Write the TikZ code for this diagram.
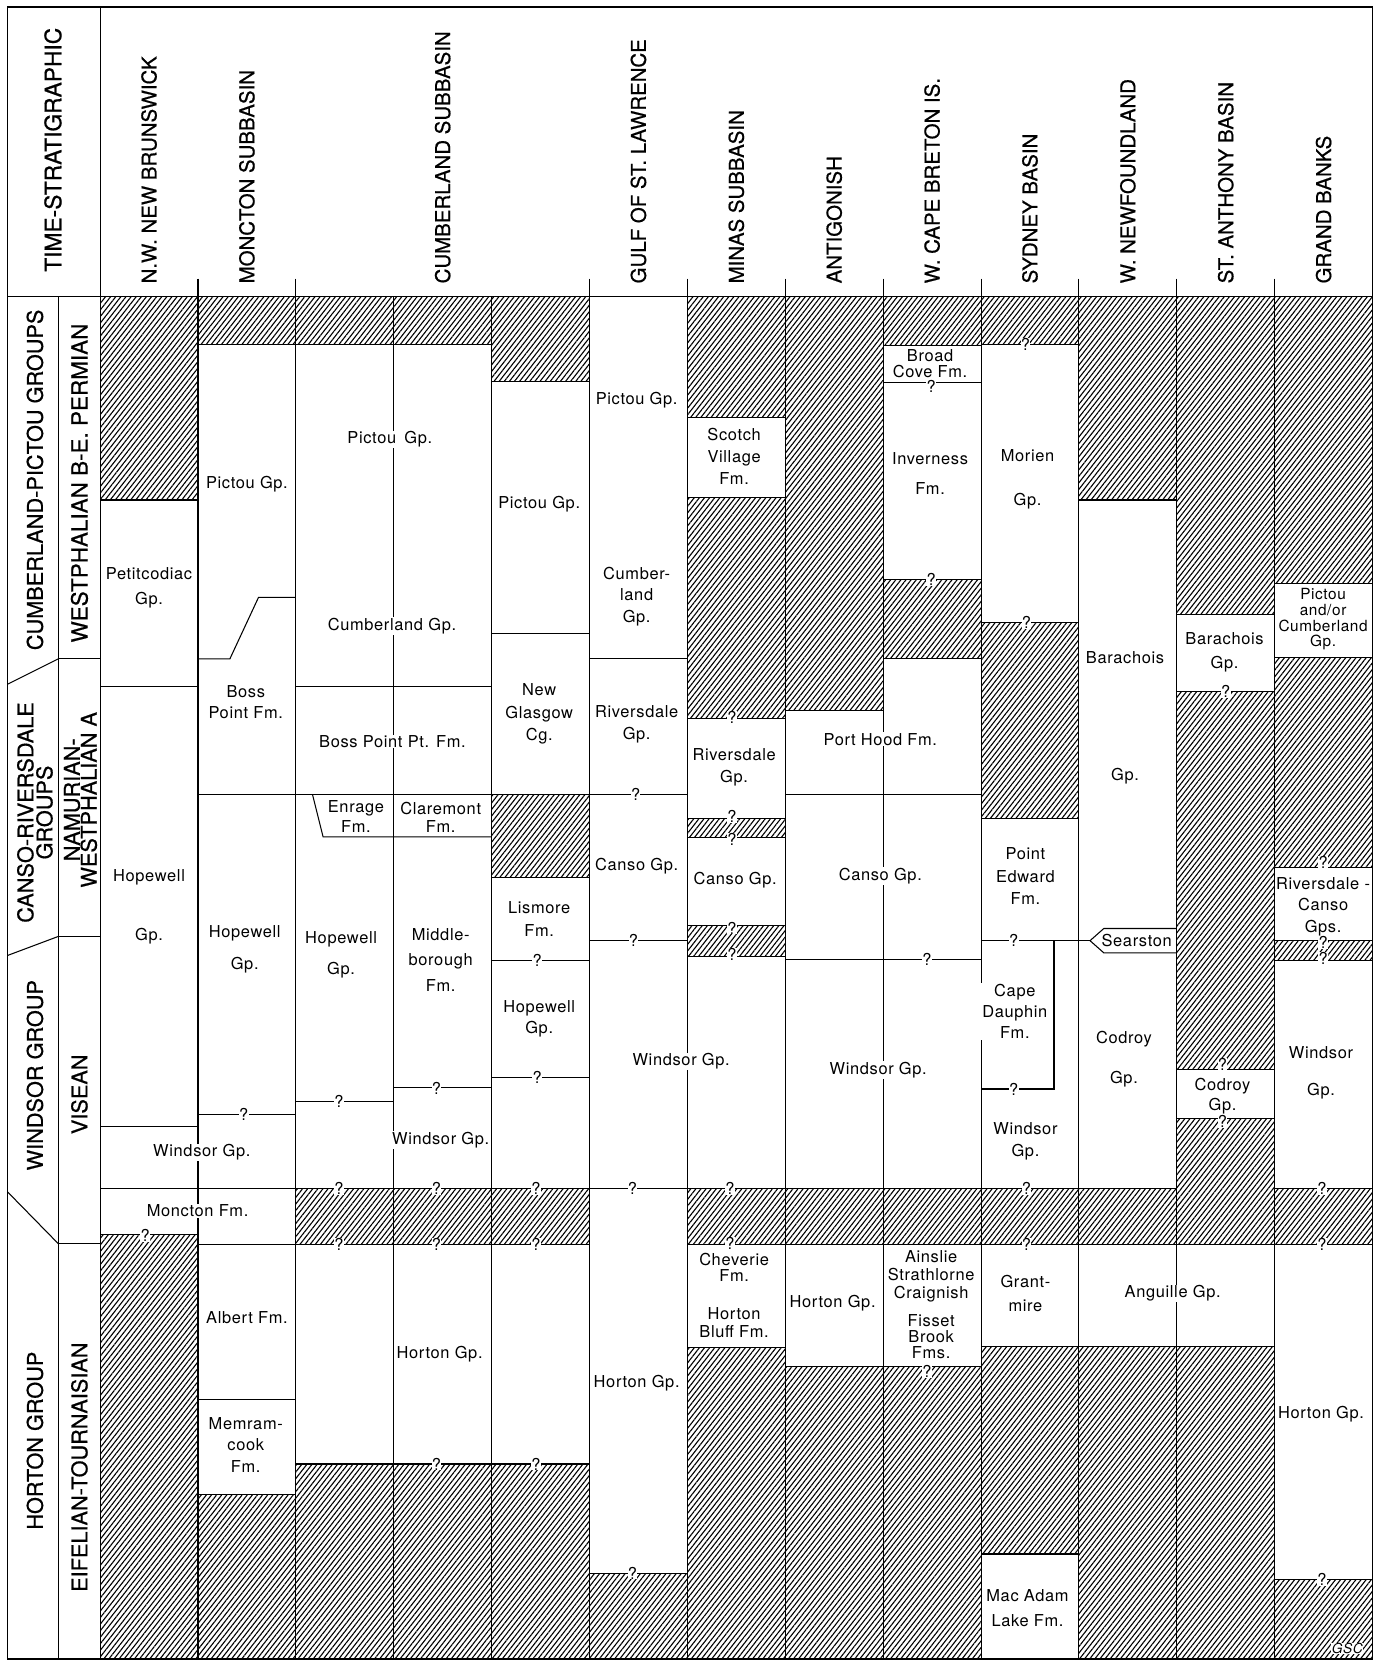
\documentclass[tikz,border=0pt]{standalone}
\usepackage{fontspec}
\setmainfont{TeX Gyre Heros}[LetterSpace=4]
\newfontfamily\capsfont{TeX Gyre Heros}[FakeBold=0.6]
\usetikzlibrary{patterns.meta}
\tikzset{
  hatch/.style={pattern={Lines[angle=52,distance=3.8pt,line width=1.05pt]},draw=black,line width=1pt},
  tx/.style={font=\fontsize{15.5}{#1}\selectfont,align=center,fill=white,inner sep=0.8pt},
  tx/.default=20,
  qm/.style={font=\fontsize{15.5}{15.5}\selectfont,fill=white,inner sep=0.3pt},
  hdr/.style={font=\capsfont\fontsize{19.3}{19.3}\selectfont,rotate=90,anchor=west,inner sep=0pt},
  grp/.style={font=\capsfont\fontsize{20.5}{#1}\selectfont,rotate=90,align=center,inner sep=0pt},
  grp/.default=20,
}
\begin{document}
\begin{tikzpicture}[x=1pt,y=-1pt,line width=1pt]
\useasboundingbox (0,0) rectangle (1306,1568);
\fill[white] (0,0) rectangle (1306,1568);

% ---------- hatched (missing) intervals ----------
\path[hatch] (94.5,280) rectangle (186.9,472);
\path[hatch] (94.5,1165) rectangle (186.9,1566);
\path[hatch] (186.9,280) rectangle (279.3,325);
\path[hatch] (186.9,1411) rectangle (279.3,1566);
\path[hatch] (279.3,280) rectangle (464.1,325);
\path[hatch] (279.3,1122) rectangle (556.5,1175);
\path[hatch] (279.3,1382) rectangle (556.5,1566);
\path[hatch] (464.1,280) rectangle (556.5,360);
\path[hatch] (464.1,750) rectangle (556.5,828);
\path[hatch] (556.5,1485) rectangle (648.9,1566);
\path[hatch] (648.9,280) rectangle (741.3,394);
\path[hatch] (648.9,470) rectangle (741.3,678);
\path[hatch] (648.9,773) rectangle (741.3,791);
\path[hatch] (648.9,874) rectangle (741.3,903);
\path[hatch] (648.9,1122) rectangle (1110.9,1175);
\path[hatch] (648.9,1272) rectangle (741.3,1566);
\path[hatch] (741.3,280) rectangle (833.7,671);
\path[hatch] (741.3,1290) rectangle (926.1,1566);
\path[hatch] (833.7,280) rectangle (926.1,326);
\path[hatch] (833.7,547) rectangle (926.1,622);
\path[hatch] (926.1,280) rectangle (1018.5,325);
\path[hatch] (926.1,588) rectangle (1018.5,773);
\path[hatch] (926.1,1271) rectangle (1018.5,1467);
\path[hatch] (1018.5,280) rectangle (1110.9,472);
\path[hatch] (1018.5,1271) rectangle (1203.3,1566);
\path[hatch] (1110.9,280) rectangle (1203.3,580);
\path[hatch] (1110.9,653) rectangle (1203.3,1010);
\path[hatch] (1110.9,1056) rectangle (1203.3,1175);
\path[hatch] (1203.3,280) rectangle (1295.7,551);
\path[hatch] (1203.3,621) rectangle (1295.7,819);
\path[hatch] (1203.3,888) rectangle (1295.7,907);
\path[hatch] (1203.3,1122) rectangle (1295.7,1175);
\path[hatch] (1203.3,1491) rectangle (1295.7,1566);

% ---------- frame and grid ----------
\draw (7,280) -- (1295.7,280);
\draw (94.5,6.5) -- (94.5,1566);
\draw (55,280) -- (55,1566);
\foreach \x in {186.9,279.3,371.7,464.1,556.5,648.9,741.3,833.7,926.1,1018.5,1110.9,1203.3}
  \draw (\x,280) -- (\x,1566);
\foreach \x in {186.9,279.3,556.5,648.9,741.3,833.7,926.1,1018.5,1110.9,1203.3}
  \draw (\x,263) -- (\x,280);
% time-stratigraphic divisions
\draw (55,622) -- (94.5,622);
\draw (55,884) -- (94.5,884);
\draw (55,1174) -- (94.5,1174);
\draw (7,646) -- (55,622);
\draw (7,902) -- (55,884);
\draw (7,1125) -- (55,1174);

% ---------- unit boundaries ----------
\draw (94.5,648) -- (186.9,648);
\draw (94.5,1063) -- (186.9,1063);
\draw (94.5,1122) -- (279.3,1122);
\draw (186.9,1175) -- (279.3,1175);
\draw (186.9,622) -- (217,622) -- (244,564) -- (279.3,564);
\draw (186.9,750) -- (648.9,750);
\draw (186.9,1052) -- (279.3,1052);
\draw (186.9,1321) -- (279.3,1321);
\draw (279.3,648) -- (464.1,648);
\draw (295,750) -- (305,790) -- (464.1,790);
\draw (279.3,1040) -- (371.7,1040);
\draw (371.7,1027) -- (464.1,1027);
\draw (464.1,598) -- (556.5,598);
\draw (464.1,907) -- (556.5,907);
\draw (464.1,1017) -- (556.5,1017);
\draw (556.5,622) -- (648.9,622);
\draw (556.5,888) -- (648.9,888);
\draw (556.5,1122) -- (648.9,1122);
\draw (741.3,750) -- (926.1,750);
\draw (741.3,906) -- (926.1,906);
\draw (833.7,361) -- (926.1,361);
\draw (926.1,888) -- (1029,888);
\draw (926.1,1028) -- (995,1028) -- (995,888);
\draw (1029,888) -- (1042,876.5) -- (1110.9,876.5);
\draw (1029,888) -- (1042,899.5) -- (1110.9,899.5);

\draw[line width=1.4pt] (7,6.5) rectangle (1295.7,1566);

% ---------- headings ----------
\node[hdr,font=\capsfont\fontsize{21.5}{21.5}\selectfont] (hA) at (50,257) {TIME-STRATIGRAPHIC};
\node[hdr] (hB) at (140.7,268) {N.W. NEW BRUNSWICK};
\node[hdr] (hC) at (233.1,268) {MONCTON SUBBASIN};
\node[hdr] (hD) at (417.9,268) {CUMBERLAND SUBBASIN};
\node[hdr] (hE) at (602.7,268) {GULF OF ST. LAWRENCE};
\node[hdr] (hF) at (695.1,268) {MINAS SUBBASIN};
\node[hdr] (hG) at (787.5,268) {ANTIGONISH};
\node[hdr] (hH) at (879.9,268) {W. CAPE BRETON IS.};
\node[hdr] (hI) at (972.3,268) {SYDNEY BASIN};
\node[hdr] (hJ) at (1064.7,268) {W. NEWFOUNDLAND};
\node[hdr] (hK) at (1157.1,268) {ST. ANTHONY BASIN};
\node[hdr] (hL) at (1249.5,268) {GRAND BANKS};

\node[grp] (gA) at (33,453) {CUMBERLAND-PICTOU GROUPS};
\node[grp=18] (gB) at (33,767) {CANSO-RIVERSDALE\\GROUPS};
\node[grp] (gC) at (33,1015) {WINDSOR GROUP};
\node[grp] (gD) at (33,1360) {HORTON GROUP};
\node[grp,font=\capsfont\fontsize{21.2}{20}\selectfont] (sA) at (75,456) {WESTPHALIAN B-E. PERMIAN};
\node[grp=16] (sB) at (76,755) {NAMURIAN-\\WESTPHALIAN A};
\node[grp] (sC) at (75,1033) {VISEAN};
\node[grp] (sD) at (75,1385) {EIFELIAN-TOURNAISIAN};

% ---------- unit names ----------
\node[tx=24] (t01) at (140.7,555) {Petitcodiac\\Gp.};
\node[tx=56] (t02) at (140.7,856) {Hopewell\\Gp.};
\node[tx] (t03) at (190.5,1088) {Windsor Gp.};
\node[tx] (t04) at (186.5,1143) {Moncton Fm.};

\node[tx] (t11) at (233.1,457) {Pictou Gp.};
\node[tx=20] (t12) at (232,663) {Boss\\Point Fm.};
\node[tx=30] (t13) at (231,896) {Hopewell\\Gp.};
\node[tx] (t14) at (233.1,1244) {Albert Fm.};
\node[tx=20] (t15) at (232,1364) {Memram-\\cook\\Fm.};

\node[tx] (t21) at (368,415) {Pictou\enspace Gp.};
\node[tx] (t22) at (370,591) {Cumberland Gp.};
\node[tx] (t23) at (370.5,700) {Boss Point Pt. Fm.};
\node[tx=19] (t24) at (336,770.5) {Enrage\\Fm.};
\node[tx=17] (t25) at (416,771.5) {Claremont\\Fm.};
\node[tx=29] (t26) at (322,901.5) {Hopewell\\Gp.};
\node[tx=24] (t27) at (416,906) {Middle-\\borough\\Fm.};
\node[tx] (t28) at (416,1076) {Windsor Gp.};
\node[tx] (t29) at (415,1278) {Horton Gp.};

\node[tx] (t41) at (509,476) {Pictou Gp.};
\node[tx=21] (t42) at (509,674) {New\\Glasgow\\Cg.};
\node[tx=21] (t43) at (509,867.5) {Lismore\\Fm.};
\node[tx=20] (t44) at (509,962) {Hopewell\\Gp.};

\node[tx] (t51) at (601,378) {Pictou Gp.};
\node[tx=20.5] (t52) at (601,563) {Cumber-\\land\\Gp.};
\node[tx=21] (t53) at (601,683.5) {Riversdale\\Gp.};
\node[tx] (t54) at (601,818) {Canso Gp.};
\node[tx] (t55) at (643,1002) {Windsor Gp.};
\node[tx] (t56) at (601,1306) {Horton Gp.};

\node[tx=21] (t61) at (693,431) {Scotch\\Village\\Fm.};
\node[tx=21] (t62) at (693,724.5) {Riversdale\\Gp.};
\node[tx] (t63) at (694,831) {Canso Gp.};
\node[tx=15] (t64) at (693,1196.5) {Cheverie\\Fm.};
\node[tx=17] (t65) at (693,1248.5) {Horton\\Bluff Fm.};

\node[tx] (t71) at (831,698) {Port Hood Fm.};
\node[tx] (t72) at (831,827) {Canso Gp.};
\node[tx] (t73) at (829,1010) {Windsor Gp.};
\node[tx] (t74) at (786,1230) {Horton Gp.};

\node[tx=15] (t81) at (878,343.5) {Broad\\Cove Fm.};
\node[tx=28] (t82) at (878,447) {Inverness\\Fm.};
\node[tx=17] (t83) at (879,1205) {Ainslie\\Strathlorne\\Craignish};
\node[tx=15] (t84) at (879,1262) {Fisset\\Brook\\Fms.};

\node[tx=41] (t91) at (970,452.5) {Morien\\Gp.};
\node[tx=21] (t92) at (968,827) {Point\\Edward\\Fm.};
\node[tx=20] (t93) at (958,955) {Cape\\Dauphin\\Fm.};
\node[tx=21] (t94) at (968,1077.5) {Windsor\\Gp.};
\node[tx=22] (t95) at (968,1221) {Grant-\\mire};
\node[tx=24] (t96) at (970,1518) {Mac Adam\\Lake Fm.};

\node[tx=111] (t101) at (1062,677.5) {Barachois\\Gp.};
\node[tx,fill=none] (t102) at (1073,888) {Searston};
\node[tx=38] (t103) at (1061,1000) {Codroy\\Gp.};
\node[tx] (t104) at (1107,1221) {Anguille Gp.};

\node[tx=23] (t111) at (1156,615.5) {Barachois\\Gp.};
\node[tx=19] (t112) at (1154,1035) {Codroy\\Gp.};

\node[tx=15,fill=none,font=\fontsize{14.5}{15}\selectfont] (t121) at (1249,584.5) {Pictou\\and/or\\Cumberland\\Gp.};
\node[tx=20.5] (t122) at (1249,856) {Riversdale -\\Canso\\Gps.};
\node[tx=35] (t123) at (1247,1012.5) {Windsor\\Gp.};
\node[tx] (t124) at (1247,1335) {Horton Gp.};
\node[fill=white,inner sep=0.5pt,font=\itshape\fontsize{13}{13}\selectfont] (gsc) at (1272,1556) {GSC};

% ---------- query marks ----------
\foreach \x/\y [count=\i] in {
  230/1052, 137/1166, 320/1040, 320/1122, 320/1175,
  412/1027, 412/1122, 412/1175, 412/1382,
  507/907, 507/1017, 506/1122, 506/1175, 506/1382,
  600/750, 598/888, 597/1122, 597/1485,
  691/677, 691/771, 691/792, 691/876, 691/901, 689/1122, 689/1174,
  879/365, 879/547, 875/906, 875/1295,
  968/325, 969/588, 957/888, 957/1028, 969/1122, 969/1175,
  1157/653, 1154/1005, 1154/1059,
  1249/814, 1249/890, 1249/905, 1248/1122, 1248/1175, 1248/1491}
  \node[qm] (q\i) at (\x,\y) {?};
\end{tikzpicture}
\end{document}
